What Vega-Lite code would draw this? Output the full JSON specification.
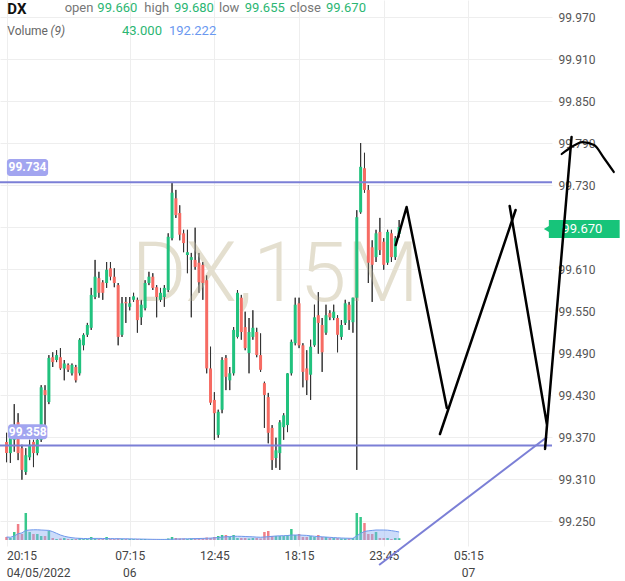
{
"$schema": "https://vega.github.io/schema/vega-lite/v6.json",
"width": 552, "height": 546,
"autosize": {"type": "none"},
"padding": {"left": 0, "top": 0, "right": 73, "bottom": 35},
"background": "white",
"config": {"view": {"stroke": null}, "font": "Roboto"},
"datasets": {
"candles": [
{"i":-32,"o":99.363,"h":99.376,"l":99.334,"c":99.347,"v":72,"m":72},
{"i":-31,"o":99.347,"h":99.377,"l":99.333,"c":99.369,"v":48,"m":66},
{"i":-30,"o":99.366,"h":99.417,"l":99.349,"c":99.387,"v":192,"m":96},
{"i":-29,"o":99.391,"h":99.404,"l":99.337,"c":99.347,"v":384,"m":150},
{"i":-28,"o":99.354,"h":99.359,"l":99.309,"c":99.323,"v":144,"m":170},
{"i":-27,"o":99.320,"h":99.354,"l":99.316,"c":99.344,"v":648,"m":230},
{"i":-26,"o":99.341,"h":99.366,"l":99.337,"c":99.359,"v":192,"m":240},
{"i":-25,"o":99.363,"h":99.366,"l":99.327,"c":99.347,"v":144,"m":245},
{"i":-24,"o":99.347,"h":99.369,"l":99.344,"c":99.366,"v":144,"m":245},
{"i":-23,"o":99.366,"h":99.444,"l":99.363,"c":99.441,"v":96,"m":240},
{"i":-22,"o":99.437,"h":99.444,"l":99.383,"c":99.430,"v":96,"m":235},
{"i":-21,"o":99.420,"h":99.487,"l":99.417,"c":99.483,"v":216,"m":230},
{"i":-20,"o":99.484,"h":99.491,"l":99.470,"c":99.477,"v":48,"m":200},
{"i":-19,"o":99.480,"h":99.494,"l":99.477,"c":99.487,"v":24,"m":160},
{"i":-18,"o":99.484,"h":99.497,"l":99.466,"c":99.468,"v":36,"m":120},
{"i":-17,"o":99.468,"h":99.480,"l":99.451,"c":99.475,"v":48,"m":90},
{"i":-16,"o":99.473,"h":99.475,"l":99.463,"c":99.466,"v":24,"m":70},
{"i":-15,"o":99.461,"h":99.475,"l":99.458,"c":99.473,"v":24,"m":55},
{"i":-14,"o":99.470,"h":99.473,"l":99.448,"c":99.451,"v":24,"m":45},
{"i":-13,"o":99.461,"h":99.511,"l":99.458,"c":99.509,"v":48,"m":40},
{"i":-12,"o":99.501,"h":99.518,"l":99.494,"c":99.516,"v":24,"m":36},
{"i":-11,"o":99.516,"h":99.533,"l":99.513,"c":99.530,"v":24,"m":36},
{"i":-10,"o":99.526,"h":99.583,"l":99.523,"c":99.573,"v":72,"m":38},
{"i":-9,"o":99.570,"h":99.623,"l":99.567,"c":99.599,"v":36,"m":38},
{"i":-8,"o":99.597,"h":99.606,"l":99.569,"c":99.576,"v":24,"m":38},
{"i":-7,"o":99.591,"h":99.594,"l":99.566,"c":99.576,"v":24,"m":36},
{"i":-6,"o":99.590,"h":99.620,"l":99.583,"c":99.609,"v":72,"m":36},
{"i":-5,"o":99.611,"h":99.620,"l":99.594,"c":99.599,"v":24,"m":34},
{"i":-4,"o":99.599,"h":99.611,"l":99.584,"c":99.590,"v":24,"m":32},
{"i":-3,"o":99.587,"h":99.590,"l":99.501,"c":99.513,"v":36,"m":32},
{"i":-2,"o":99.516,"h":99.570,"l":99.513,"c":99.561,"v":24,"m":30},
{"i":-1,"o":99.563,"h":99.570,"l":99.533,"c":99.561,"v":24,"m":30},
{"i":0,"o":99.556,"h":99.570,"l":99.551,"c":99.561,"v":24,"m":28},
{"i":1,"o":99.566,"h":99.576,"l":99.563,"c":99.571,"v":24,"m":26},
{"i":2,"o":99.566,"h":99.569,"l":99.519,"c":99.537,"v":24,"m":24},
{"i":3,"o":99.541,"h":99.566,"l":99.530,"c":99.559,"v":24,"m":22},
{"i":4,"o":99.554,"h":99.594,"l":99.551,"c":99.590,"v":24,"m":20},
{"i":5,"o":99.590,"h":99.606,"l":99.587,"c":99.599,"v":12,"m":18},
{"i":6,"o":99.599,"h":99.604,"l":99.580,"c":99.583,"v":12,"m":16},
{"i":7,"o":99.584,"h":99.587,"l":99.541,"c":99.570,"v":12,"m":15},
{"i":8,"o":99.566,"h":99.583,"l":99.563,"c":99.576,"v":12,"m":14},
{"i":9,"o":99.570,"h":99.587,"l":99.556,"c":99.583,"v":12,"m":14},
{"i":10,"o":99.580,"h":99.661,"l":99.577,"c":99.656,"v":36,"m":16},
{"i":11,"o":99.654,"h":99.733,"l":99.651,"c":99.719,"v":72,"m":20},
{"i":12,"o":99.711,"h":99.723,"l":99.683,"c":99.687,"v":48,"m":24},
{"i":13,"o":99.690,"h":99.701,"l":99.651,"c":99.659,"v":36,"m":26},
{"i":14,"o":99.661,"h":99.666,"l":99.634,"c":99.647,"v":36,"m":28},
{"i":15,"o":99.630,"h":99.666,"l":99.604,"c":99.634,"v":24,"m":30},
{"i":16,"o":99.623,"h":99.633,"l":99.541,"c":99.627,"v":36,"m":32},
{"i":17,"o":99.623,"h":99.669,"l":99.609,"c":99.613,"v":36,"m":34},
{"i":18,"o":99.619,"h":99.633,"l":99.576,"c":99.591,"v":36,"m":36},
{"i":19,"o":99.616,"h":99.620,"l":99.566,"c":99.590,"v":36,"m":38},
{"i":20,"o":99.594,"h":99.601,"l":99.461,"c":99.468,"v":60,"m":42},
{"i":21,"o":99.468,"h":99.499,"l":99.416,"c":99.419,"v":48,"m":46},
{"i":22,"o":99.423,"h":99.434,"l":99.366,"c":99.404,"v":72,"m":52},
{"i":23,"o":99.373,"h":99.409,"l":99.369,"c":99.406,"v":96,"m":60},
{"i":24,"o":99.409,"h":99.484,"l":99.404,"c":99.480,"v":120,"m":70},
{"i":25,"o":99.483,"h":99.487,"l":99.437,"c":99.456,"v":120,"m":78},
{"i":26,"o":99.451,"h":99.470,"l":99.437,"c":99.461,"v":72,"m":84},
{"i":27,"o":99.461,"h":99.527,"l":99.458,"c":99.523,"v":120,"m":90},
{"i":28,"o":99.513,"h":99.580,"l":99.511,"c":99.576,"v":48,"m":90},
{"i":29,"o":99.569,"h":99.573,"l":99.509,"c":99.520,"v":48,"m":88},
{"i":30,"o":99.527,"h":99.549,"l":99.494,"c":99.497,"v":48,"m":84},
{"i":31,"o":99.490,"h":99.540,"l":99.461,"c":99.520,"v":36,"m":80},
{"i":32,"o":99.513,"h":99.551,"l":99.509,"c":99.526,"v":48,"m":76},
{"i":33,"o":99.520,"h":99.526,"l":99.484,"c":99.487,"v":48,"m":70},
{"i":34,"o":99.487,"h":99.518,"l":99.463,"c":99.466,"v":36,"m":66},
{"i":35,"o":99.447,"h":99.449,"l":99.383,"c":99.430,"v":192,"m":72},
{"i":36,"o":99.427,"h":99.433,"l":99.361,"c":99.376,"v":216,"m":80},
{"i":37,"o":99.383,"h":99.387,"l":99.323,"c":99.337,"v":96,"m":88},
{"i":38,"o":99.340,"h":99.369,"l":99.326,"c":99.351,"v":96,"m":96},
{"i":39,"o":99.347,"h":99.394,"l":99.323,"c":99.391,"v":96,"m":100},
{"i":40,"o":99.384,"h":99.404,"l":99.366,"c":99.401,"v":96,"m":104},
{"i":41,"o":99.387,"h":99.461,"l":99.377,"c":99.461,"v":120,"m":108},
{"i":42,"o":99.461,"h":99.509,"l":99.458,"c":99.506,"v":264,"m":118},
{"i":43,"o":99.504,"h":99.569,"l":99.501,"c":99.559,"v":120,"m":120},
{"i":44,"o":99.561,"h":99.569,"l":99.497,"c":99.501,"v":144,"m":120},
{"i":45,"o":99.501,"h":99.504,"l":99.441,"c":99.463,"v":72,"m":115},
{"i":46,"o":99.468,"h":99.494,"l":99.430,"c":99.451,"v":72,"m":110},
{"i":47,"o":99.459,"h":99.509,"l":99.423,"c":99.499,"v":96,"m":100},
{"i":48,"o":99.501,"h":99.559,"l":99.499,"c":99.541,"v":72,"m":90},
{"i":49,"o":99.544,"h":99.577,"l":99.489,"c":99.533,"v":120,"m":82},
{"i":50,"o":99.530,"h":99.540,"l":99.463,"c":99.491,"v":72,"m":76},
{"i":51,"o":99.519,"h":99.559,"l":99.516,"c":99.544,"v":72,"m":70},
{"i":52,"o":99.547,"h":99.551,"l":99.537,"c":99.541,"v":48,"m":64},
{"i":53,"o":99.540,"h":99.559,"l":99.537,"c":99.549,"v":48,"m":58},
{"i":54,"o":99.540,"h":99.544,"l":99.491,"c":99.516,"v":48,"m":52},
{"i":55,"o":99.513,"h":99.537,"l":99.509,"c":99.530,"v":36,"m":48},
{"i":56,"o":99.533,"h":99.566,"l":99.530,"c":99.561,"v":36,"m":44},
{"i":57,"o":99.559,"h":99.563,"l":99.523,"c":99.537,"v":36,"m":42},
{"i":58,"o":99.534,"h":99.569,"l":99.519,"c":99.569,"v":48,"m":40},
{"i":59,"o":99.569,"h":99.694,"l":99.323,"c":99.684,"v":648,"m":100},
{"i":60,"o":99.691,"h":99.790,"l":99.689,"c":99.756,"v":552,"m":160},
{"i":61,"o":99.754,"h":99.776,"l":99.719,"c":99.723,"v":408,"m":205},
{"i":62,"o":99.723,"h":99.730,"l":99.590,"c":99.619,"v":144,"m":220},
{"i":63,"o":99.641,"h":99.651,"l":99.563,"c":99.616,"v":144,"m":230},
{"i":64,"o":99.627,"h":99.666,"l":99.620,"c":99.661,"v":192,"m":240},
{"i":65,"o":99.663,"h":99.683,"l":99.630,"c":99.637,"v":48,"m":240},
{"i":66,"o":99.649,"h":99.654,"l":99.609,"c":99.616,"v":48,"m":240},
{"i":67,"o":99.619,"h":99.666,"l":99.616,"c":99.663,"v":48,"m":236},
{"i":68,"o":99.661,"h":99.666,"l":99.620,"c":99.627,"v":24,"m":225},
{"i":69,"o":99.627,"h":99.657,"l":99.623,"c":99.654,"v":48,"m":210},
{"i":70,"o":99.660,"h":99.680,"l":99.655,"c":99.670,"v":43,"m":192.222}
],
"levels": [{"lvl": 99.734}, {"lvl": 99.358}],
"one": [{}],
"sketch": [
{"s":"a","k":1,"i":69.13,"p":99.6443},
{"s":"a","k":2,"i":71.94,"p":99.6986},
{"s":"a","k":3,"i":82.40,"p":99.4115},
{"s":"b","k":1,"i":80.61,"p":99.3743},
{"s":"b","k":2,"i":100.26,"p":99.6943},
{"s":"c","k":1,"i":98.72,"p":99.7000},
{"s":"c","k":2,"i":108.42,"p":99.3872},
{"s":"c","k":3,"i":107.91,"p":99.3529},
{"s":"c","k":4,"i":114.80,"p":99.7986}
],
"curve": [
{"k":1,"i":112.24,"p":99.7743},
{"k":2,"i":114.80,"p":99.7843},
{"k":3,"i":117.60,"p":99.7914},
{"k":4,"i":120.66,"p":99.7871},
{"k":5,"i":123.21,"p":99.7686},
{"k":6,"i":125.77,"p":99.7486}
],
"trend": [
{"k":1,"i":64.80,"p":99.1872},
{"k":2,"i":108.42,"p":99.3700}
]
},
"resolve": {"scale": {"y": "independent"}},
"layer": [
{"data": {"name": "candles"},
 "mark": {"type": "rule", "color": "#333333", "strokeWidth": 1},
 "encoding": {
  "x": {"field": "i", "type": "quantitative", "scale": {"domain": [-32.4, 108.42], "nice": false, "zero": false},
   "axis": {"values": [-32, 0, 22, 44, 66, 88],
    "labelExpr": "datum.value < -20 ? '20:15' : datum.value == 0 ? '07:15' : datum.value == 22 ? '12:45' : datum.value == 44 ? '18:15' : datum.value == 66 ? '23:45' : '05:15'",
    "labelAlign": {"condition": {"test": "datum.value < -20", "value": "left"}, "value": "center"},
    "labelFlush": false, "labelColor": "#444444", "labelFontSize": 12, "labelPadding": 4,
    "ticks": false, "domain": false, "title": null, "grid": true, "gridColor": "#eeeeee"}},
  "y": {"field": "l", "type": "quantitative", "scale": {"domain": [99.2143, 99.9943], "nice": false, "zero": false},
   "axis": {"orient": "right", "values": [99.25, 99.31, 99.37, 99.43, 99.49, 99.55, 99.61, 99.67, 99.73, 99.79, 99.85, 99.91, 99.97],
    "labelExpr": "datum.value == 99.67 ? '' : format(datum.value, '.3f')",
    "labelColor": "#555555", "labelFontSize": 12, "labelPadding": 6, "ticks": false, "domain": false,
    "title": null, "gridColor": "#eeeeee"}},
  "y2": {"field": "h"}
 }},
{"data": {"name": "candles"},
 "mark": {"type": "bar", "width": 2.5, "opacity": 0.9},
 "encoding": {
  "x": {"field": "i", "type": "quantitative", "scale": {"domain": [-32.4, 108.42], "nice": false, "zero": false}},
  "y": {"field": "v", "type": "quantitative", "scale": {"domain": [-144, 12960], "nice": false, "zero": false}, "axis": null},
  "y2": {"datum": 0},
  "color": {"condition": {"test": "datum.c >= datum.o", "value": "#21c27e"}, "value": "#f0707a"}
 }},
{"data": {"name": "candles"},
 "mark": {"type": "area", "color": "#8fb2f3", "fillOpacity": 0.45, "line": {"color": "#6f98ec", "strokeWidth": 1}},
 "encoding": {
  "x": {"field": "i", "type": "quantitative", "scale": {"domain": [-32.4, 108.42], "nice": false, "zero": false}},
  "y": {"field": "m", "type": "quantitative", "scale": {"domain": [-144, 12960], "nice": false, "zero": false}, "axis": null},
  "y2": {"datum": 0}
 }},
{"data": {"name": "one"},
 "mark": {"type": "text", "text": "DX,15M", "fontSize": 84, "fontWeight": 300, "color": "#e4dfcf", "align": "center", "baseline": "alphabetic"},
 "encoding": {
  "x": {"datum": 37.8, "type": "quantitative", "scale": {"domain": [-32.4, 108.42], "nice": false, "zero": false}},
  "y": {"datum": 99.5643, "type": "quantitative", "scale": {"domain": [99.2143, 99.9943], "nice": false, "zero": false}, "axis": null}
 }},
{"data": {"name": "candles"},
 "mark": {"type": "rule", "color": "#333333", "strokeWidth": 1},
 "encoding": {
  "x": {"field": "i", "type": "quantitative", "scale": {"domain": [-32.4, 108.42], "nice": false, "zero": false}},
  "y": {"field": "l", "type": "quantitative", "scale": {"domain": [99.2143, 99.9943], "nice": false, "zero": false}, "axis": null},
  "y2": {"field": "h"}
 }},
{"data": {"name": "candles"},
 "mark": {"type": "bar", "width": 3},
 "encoding": {
  "x": {"field": "i", "type": "quantitative", "scale": {"domain": [-32.4, 108.42], "nice": false, "zero": false}},
  "y": {"field": "o", "type": "quantitative", "scale": {"domain": [99.2143, 99.9943], "nice": false, "zero": false}, "axis": null},
  "y2": {"field": "c"},
  "color": {"condition": {"test": "datum.c >= datum.o", "value": "#21c27e"}, "value": "#f66b63"}
 }},
{"data": {"name": "levels"},
 "mark": {"type": "rule", "color": "#7b7fd6", "strokeWidth": 2},
 "encoding": {
  "y": {"field": "lvl", "type": "quantitative", "scale": {"domain": [99.2143, 99.9943], "nice": false, "zero": false}, "axis": null}
 }},
{"data": {"name": "one"},
 "mark": {"type": "rect", "color": "#a2a5f0", "cornerRadius": 3},
 "encoding": {
  "x": {"datum": -31.9, "type": "quantitative", "scale": {"domain": [-32.4, 108.42], "nice": false, "zero": false}},
  "x2": {"datum": -21.2},
  "y": {"datum": 99.7672, "type": "quantitative", "scale": {"domain": [99.2143, 99.9943], "nice": false, "zero": false}, "axis": null},
  "y2": {"datum": 99.7429}
 }},
{"data": {"name": "one"},
 "mark": {"type": "text", "text": "99.734", "color": "white", "fontWeight": "bold", "fontSize": 12, "align": "center", "baseline": "middle"},
 "encoding": {
  "x": {"datum": -26.55, "type": "quantitative", "scale": {"domain": [-32.4, 108.42], "nice": false, "zero": false}},
  "y": {"datum": 99.7551, "type": "quantitative", "scale": {"domain": [99.2143, 99.9943], "nice": false, "zero": false}, "axis": null}
 }},
{"data": {"name": "one"},
 "mark": {"type": "rect", "color": "#a2a5f0", "cornerRadius": 3},
 "encoding": {
  "x": {"datum": -31.6, "type": "quantitative", "scale": {"domain": [-32.4, 108.42], "nice": false, "zero": false}},
  "x2": {"datum": -21.4},
  "y": {"datum": 99.3882, "type": "quantitative", "scale": {"domain": [99.2143, 99.9943], "nice": false, "zero": false}, "axis": null},
  "y2": {"datum": 99.3667}
 }},
{"data": {"name": "one"},
 "mark": {"type": "text", "text": "99.358", "color": "white", "fontWeight": "bold", "fontSize": 12, "align": "center", "baseline": "middle"},
 "encoding": {
  "x": {"datum": -26.5, "type": "quantitative", "scale": {"domain": [-32.4, 108.42], "nice": false, "zero": false}},
  "y": {"datum": 99.3775, "type": "quantitative", "scale": {"domain": [99.2143, 99.9943], "nice": false, "zero": false}, "axis": null}
 }},
{"data": {"name": "trend"},
 "mark": {"type": "line", "color": "#7b7fd6", "strokeWidth": 2},
 "encoding": {
  "x": {"field": "i", "type": "quantitative", "scale": {"domain": [-32.4, 108.42], "nice": false, "zero": false}},
  "y": {"field": "p", "type": "quantitative", "scale": {"domain": [99.2143, 99.9943], "nice": false, "zero": false}, "axis": null},
  "order": {"field": "k"}
 }},
{"data": {"name": "one"},
 "mark": {"type": "rect", "color": "#17c47a"},
 "encoding": {
  "x": {"datum": 108.9, "type": "quantitative", "scale": {"domain": [-32.4, 108.42], "nice": false, "zero": false}},
  "x2": {"datum": 127.3},
  "y": {"datum": 99.6800, "type": "quantitative", "scale": {"domain": [99.2143, 99.9943], "nice": false, "zero": false}, "axis": null},
  "y2": {"datum": 99.6543}
 }},
{"data": {"name": "one"},
 "mark": {"type": "point", "shape": "triangle-left", "filled": true, "color": "#17c47a", "size": 40, "opacity": 1},
 "encoding": {
  "x": {"datum": 108.3, "type": "quantitative", "scale": {"domain": [-32.4, 108.42], "nice": false, "zero": false}},
  "y": {"datum": 99.6672, "type": "quantitative", "scale": {"domain": [99.2143, 99.9943], "nice": false, "zero": false}, "axis": null}
 }},
{"data": {"name": "one"},
 "mark": {"type": "text", "text": "99.670", "color": "white", "fontSize": 13, "align": "center", "baseline": "middle"},
 "encoding": {
  "x": {"datum": 117.6, "type": "quantitative", "scale": {"domain": [-32.4, 108.42], "nice": false, "zero": false}},
  "y": {"datum": 99.6672, "type": "quantitative", "scale": {"domain": [99.2143, 99.9943], "nice": false, "zero": false}, "axis": null}
 }},
{"data": {"name": "sketch"},
 "mark": {"type": "line", "color": "#000000", "strokeWidth": 2.5, "strokeCap": "round", "strokeJoin": "round"},
 "encoding": {
  "x": {"field": "i", "type": "quantitative", "scale": {"domain": [-32.4, 108.42], "nice": false, "zero": false}},
  "y": {"field": "p", "type": "quantitative", "scale": {"domain": [99.2143, 99.9943], "nice": false, "zero": false}, "axis": null},
  "detail": {"field": "s"},
  "order": {"field": "k"}
 }},
{"data": {"name": "curve"},
 "mark": {"type": "line", "color": "#000000", "strokeWidth": 2.2, "strokeCap": "round", "interpolate": "monotone"},
 "encoding": {
  "x": {"field": "i", "type": "quantitative", "scale": {"domain": [-32.4, 108.42], "nice": false, "zero": false}},
  "y": {"field": "p", "type": "quantitative", "scale": {"domain": [99.2143, 99.9943], "nice": false, "zero": false}, "axis": null},
  "order": {"field": "k"}
 }},
{"data": {"name": "one"}, "mark": {"type": "text", "text": "04/05/2022", "fontSize": 12, "color": "#444444", "align": "left", "baseline": "middle"},
 "encoding": {"x": {"datum": -31.95, "type": "quantitative", "scale": {"domain": [-32.4, 108.42], "nice": false, "zero": false}}, "y": {"datum": 99.1757, "type": "quantitative", "scale": {"domain": [99.2143, 99.9943], "nice": false, "zero": false}, "axis": null}}},
{"data": {"name": "one"}, "mark": {"type": "text", "text": "06", "fontSize": 12, "color": "#444444", "align": "center", "baseline": "middle"},
 "encoding": {"x": {"datum": 0, "type": "quantitative", "scale": {"domain": [-32.4, 108.42], "nice": false, "zero": false}}, "y": {"datum": 99.1757, "type": "quantitative", "scale": {"domain": [99.2143, 99.9943], "nice": false, "zero": false}, "axis": null}}},
{"data": {"name": "one"}, "mark": {"type": "text", "text": "07", "fontSize": 12, "color": "#444444", "align": "center", "baseline": "middle"},
 "encoding": {"x": {"datum": 88, "type": "quantitative", "scale": {"domain": [-32.4, 108.42], "nice": false, "zero": false}}, "y": {"datum": 99.1757, "type": "quantitative", "scale": {"domain": [99.2143, 99.9943], "nice": false, "zero": false}, "axis": null}}},
{"data": {"name": "one"}, "mark": {"type": "text", "text": "DX", "fontSize": 15, "fontWeight": "bold", "color": "#111111", "align": "left", "baseline": "middle"},
 "encoding": {"x": {"datum": -31.8, "type": "quantitative", "scale": {"domain": [-32.4, 108.42], "nice": false, "zero": false}}, "y": {"datum": 99.9815, "type": "quantitative", "scale": {"domain": [99.2143, 99.9943], "nice": false, "zero": false}, "axis": null}}},
{"data": {"name": "one"}, "mark": {"type": "text", "text": "open", "fontSize": 13, "color": "#777777", "align": "left", "baseline": "middle"},
 "encoding": {"x": {"datum": -16.9, "type": "quantitative", "scale": {"domain": [-32.4, 108.42], "nice": false, "zero": false}}, "y": {"datum": 99.9825, "type": "quantitative", "scale": {"domain": [99.2143, 99.9943], "nice": false, "zero": false}, "axis": null}}},
{"data": {"name": "one"}, "mark": {"type": "text", "text": "99.660", "fontSize": 13, "color": "#2bb673", "align": "left", "baseline": "middle"},
 "encoding": {"x": {"datum": -8.4, "type": "quantitative", "scale": {"domain": [-32.4, 108.42], "nice": false, "zero": false}}, "y": {"datum": 99.9825, "type": "quantitative", "scale": {"domain": [99.2143, 99.9943], "nice": false, "zero": false}, "axis": null}}},
{"data": {"name": "one"}, "mark": {"type": "text", "text": "high", "fontSize": 13, "color": "#777777", "align": "left", "baseline": "middle"},
 "encoding": {"x": {"datum": 3.8, "type": "quantitative", "scale": {"domain": [-32.4, 108.42], "nice": false, "zero": false}}, "y": {"datum": 99.9825, "type": "quantitative", "scale": {"domain": [99.2143, 99.9943], "nice": false, "zero": false}, "axis": null}}},
{"data": {"name": "one"}, "mark": {"type": "text", "text": "99.680", "fontSize": 13, "color": "#2bb673", "align": "left", "baseline": "middle"},
 "encoding": {"x": {"datum": 11.5, "type": "quantitative", "scale": {"domain": [-32.4, 108.42], "nice": false, "zero": false}}, "y": {"datum": 99.9825, "type": "quantitative", "scale": {"domain": [99.2143, 99.9943], "nice": false, "zero": false}, "axis": null}}},
{"data": {"name": "one"}, "mark": {"type": "text", "text": "low", "fontSize": 13, "color": "#777777", "align": "left", "baseline": "middle"},
 "encoding": {"x": {"datum": 23.2, "type": "quantitative", "scale": {"domain": [-32.4, 108.42], "nice": false, "zero": false}}, "y": {"datum": 99.9825, "type": "quantitative", "scale": {"domain": [99.2143, 99.9943], "nice": false, "zero": false}, "axis": null}}},
{"data": {"name": "one"}, "mark": {"type": "text", "text": "99.655", "fontSize": 13, "color": "#2bb673", "align": "left", "baseline": "middle"},
 "encoding": {"x": {"datum": 29.9, "type": "quantitative", "scale": {"domain": [-32.4, 108.42], "nice": false, "zero": false}}, "y": {"datum": 99.9825, "type": "quantitative", "scale": {"domain": [99.2143, 99.9943], "nice": false, "zero": false}, "axis": null}}},
{"data": {"name": "one"}, "mark": {"type": "text", "text": "close", "fontSize": 13, "color": "#777777", "align": "left", "baseline": "middle"},
 "encoding": {"x": {"datum": 41.6, "type": "quantitative", "scale": {"domain": [-32.4, 108.42], "nice": false, "zero": false}}, "y": {"datum": 99.9825, "type": "quantitative", "scale": {"domain": [99.2143, 99.9943], "nice": false, "zero": false}, "axis": null}}},
{"data": {"name": "one"}, "mark": {"type": "text", "text": "99.670", "fontSize": 13, "color": "#2bb673", "align": "left", "baseline": "middle"},
 "encoding": {"x": {"datum": 51.0, "type": "quantitative", "scale": {"domain": [-32.4, 108.42], "nice": false, "zero": false}}, "y": {"datum": 99.9825, "type": "quantitative", "scale": {"domain": [99.2143, 99.9943], "nice": false, "zero": false}, "axis": null}}},
{"data": {"name": "one"}, "mark": {"type": "text", "text": "Volume", "fontSize": 12, "color": "#666666", "align": "left", "baseline": "middle"},
 "encoding": {"x": {"datum": -31.8, "type": "quantitative", "scale": {"domain": [-32.4, 108.42], "nice": false, "zero": false}}, "y": {"datum": 99.9507, "type": "quantitative", "scale": {"domain": [99.2143, 99.9943], "nice": false, "zero": false}, "axis": null}}},
{"data": {"name": "one"}, "mark": {"type": "text", "text": "(9)", "fontSize": 12, "fontStyle": "italic", "color": "#666666", "align": "left", "baseline": "middle"},
 "encoding": {"x": {"datum": -20.6, "type": "quantitative", "scale": {"domain": [-32.4, 108.42], "nice": false, "zero": false}}, "y": {"datum": 99.9507, "type": "quantitative", "scale": {"domain": [99.2143, 99.9943], "nice": false, "zero": false}, "axis": null}}},
{"data": {"name": "one"}, "mark": {"type": "text", "text": "43.000", "fontSize": 13, "color": "#2bb673", "align": "left", "baseline": "middle"},
 "encoding": {"x": {"datum": -2.0, "type": "quantitative", "scale": {"domain": [-32.4, 108.42], "nice": false, "zero": false}}, "y": {"datum": 99.9507, "type": "quantitative", "scale": {"domain": [99.2143, 99.9943], "nice": false, "zero": false}, "axis": null}}},
{"data": {"name": "one"}, "mark": {"type": "text", "text": "192.222", "fontSize": 13, "color": "#6a98f0", "align": "left", "baseline": "middle"},
 "encoding": {"x": {"datum": 10.2, "type": "quantitative", "scale": {"domain": [-32.4, 108.42], "nice": false, "zero": false}}, "y": {"datum": 99.9507, "type": "quantitative", "scale": {"domain": [99.2143, 99.9943], "nice": false, "zero": false}, "axis": null}}}
]
}
